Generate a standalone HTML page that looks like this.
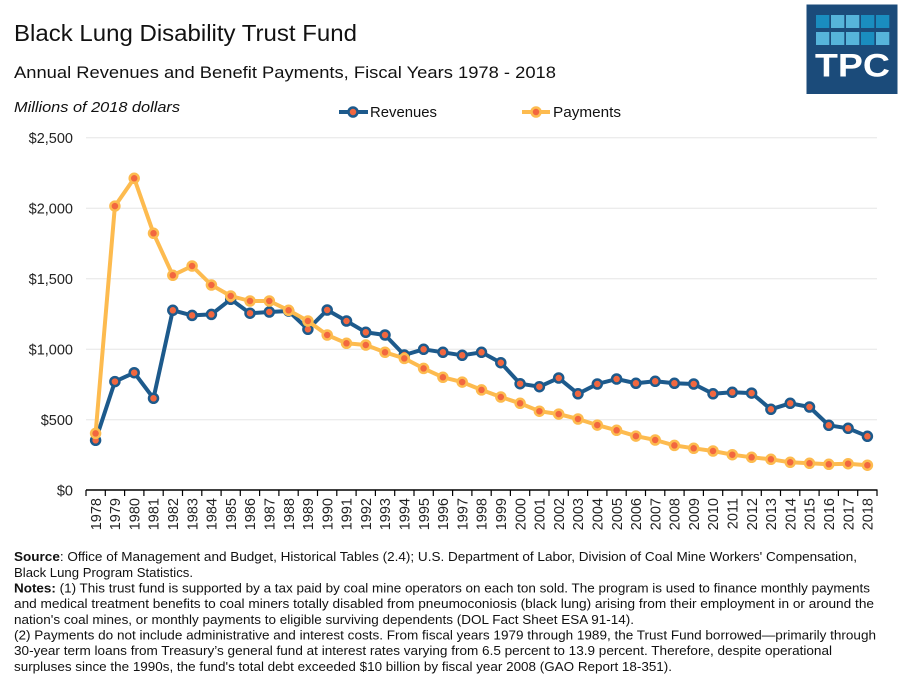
<!DOCTYPE html>
<html>
<head>
<meta charset="utf-8">
<style>
html,body{margin:0;padding:0;background:#fff;}
svg{display:block;font-family:"Liberation Sans",Arial,sans-serif;}
</style>
</head>
<body>
<svg width="907" height="682" viewBox="0 0 907 682" xmlns="http://www.w3.org/2000/svg">
<rect width="907" height="682" fill="#fff"/>

<!-- Titles -->
<text x="14" y="41" font-size="23" fill="#111" textLength="343" lengthAdjust="spacingAndGlyphs">Black Lung Disability Trust Fund</text>
<text x="14" y="78" font-size="16.5" fill="#111" textLength="542" lengthAdjust="spacingAndGlyphs">Annual Revenues and Benefit Payments, Fiscal Years 1978 - 2018</text>
<text x="14" y="112" font-size="15" font-style="italic" fill="#111" textLength="166" lengthAdjust="spacingAndGlyphs">Millions of 2018 dollars</text>

<!-- TPC logo -->
<rect x="806.5" y="4.5" width="91" height="89.5" fill="#1b4b7a"/>
<g>
<rect x="816" y="15" width="13.3" height="13" fill="#1a8dbf"/>
<rect x="831" y="15" width="13.3" height="13" fill="#56b4da"/>
<rect x="846" y="15" width="13.3" height="13" fill="#56b4da"/>
<rect x="861" y="15" width="13.3" height="13" fill="#1a8dbf"/>
<rect x="876" y="15" width="13.3" height="13" fill="#1a8dbf"/>
<rect x="816" y="32" width="13.3" height="13" fill="#56b4da"/>
<rect x="831" y="32" width="13.3" height="13" fill="#56b4da"/>
<rect x="846" y="32" width="13.3" height="13" fill="#56b4da"/>
<rect x="861" y="32" width="13.3" height="13" fill="#1a8dbf"/>
<rect x="876" y="32" width="13.3" height="13" fill="#56b4da"/>
</g>
<text x="815" y="76.5" font-size="32" font-weight="bold" fill="#fff" textLength="75" lengthAdjust="spacingAndGlyphs">TPC</text>

<!-- Legend -->
<line x1="339" y1="112" x2="368" y2="112" stroke="#1d5a8c" stroke-width="4"/>
<circle cx="353" cy="112" r="4.5" fill="#f2673f" stroke="#1d5a8c" stroke-width="2.5"/>
<text x="370" y="117" font-size="15" fill="#111" textLength="67" lengthAdjust="spacingAndGlyphs">Revenues</text>
<line x1="522" y1="112" x2="550" y2="112" stroke="#fdbb4f" stroke-width="4"/>
<circle cx="536" cy="112" r="4.5" fill="#f2673f" stroke="#fdbb4f" stroke-width="2.5"/>
<text x="553" y="117" font-size="15" fill="#111" textLength="68" lengthAdjust="spacingAndGlyphs">Payments</text>

<!-- Gridlines -->
<g stroke="#e6e6e6" stroke-width="1">
<line x1="86" y1="137.7" x2="877" y2="137.7"/>
<line x1="86" y1="208.2" x2="877" y2="208.2"/>
<line x1="86" y1="278.7" x2="877" y2="278.7"/>
<line x1="86" y1="349.2" x2="877" y2="349.2"/>
<line x1="86" y1="419.7" x2="877" y2="419.7"/>
</g>

<!-- Y labels -->
<g font-size="14.5" fill="#222" text-anchor="end">
<text x="73" y="143">$2,500</text>
<text x="73" y="213.5">$2,000</text>
<text x="73" y="284">$1,500</text>
<text x="73" y="354.5">$1,000</text>
<text x="73" y="425">$500</text>
<text x="73" y="495.5">$0</text>
</g>

<!-- X axis -->
<line x1="86" y1="490" x2="877.5" y2="490" stroke="#000" stroke-width="1.5"/>
<g stroke="#000" stroke-width="1.2">
<line x1="86.0" y1="490" x2="86.0" y2="496"/><line x1="105.3" y1="490" x2="105.3" y2="496"/><line x1="124.6" y1="490" x2="124.6" y2="496"/><line x1="143.9" y1="490" x2="143.9" y2="496"/><line x1="163.2" y1="490" x2="163.2" y2="496"/><line x1="182.5" y1="490" x2="182.5" y2="496"/><line x1="201.8" y1="490" x2="201.8" y2="496"/><line x1="221.1" y1="490" x2="221.1" y2="496"/><line x1="240.3" y1="490" x2="240.3" y2="496"/><line x1="259.6" y1="490" x2="259.6" y2="496"/><line x1="278.9" y1="490" x2="278.9" y2="496"/><line x1="298.2" y1="490" x2="298.2" y2="496"/><line x1="317.5" y1="490" x2="317.5" y2="496"/><line x1="336.8" y1="490" x2="336.8" y2="496"/><line x1="356.1" y1="490" x2="356.1" y2="496"/><line x1="375.4" y1="490" x2="375.4" y2="496"/><line x1="394.7" y1="490" x2="394.7" y2="496"/><line x1="414.0" y1="490" x2="414.0" y2="496"/><line x1="433.3" y1="490" x2="433.3" y2="496"/><line x1="452.6" y1="490" x2="452.6" y2="496"/><line x1="471.9" y1="490" x2="471.9" y2="496"/><line x1="491.2" y1="490" x2="491.2" y2="496"/><line x1="510.4" y1="490" x2="510.4" y2="496"/><line x1="529.7" y1="490" x2="529.7" y2="496"/><line x1="549.0" y1="490" x2="549.0" y2="496"/><line x1="568.3" y1="490" x2="568.3" y2="496"/><line x1="587.6" y1="490" x2="587.6" y2="496"/><line x1="606.9" y1="490" x2="606.9" y2="496"/><line x1="626.2" y1="490" x2="626.2" y2="496"/><line x1="645.5" y1="490" x2="645.5" y2="496"/><line x1="664.8" y1="490" x2="664.8" y2="496"/><line x1="684.1" y1="490" x2="684.1" y2="496"/><line x1="703.4" y1="490" x2="703.4" y2="496"/><line x1="722.7" y1="490" x2="722.7" y2="496"/><line x1="742.0" y1="490" x2="742.0" y2="496"/><line x1="761.3" y1="490" x2="761.3" y2="496"/><line x1="780.5" y1="490" x2="780.5" y2="496"/><line x1="799.8" y1="490" x2="799.8" y2="496"/><line x1="819.1" y1="490" x2="819.1" y2="496"/><line x1="838.4" y1="490" x2="838.4" y2="496"/><line x1="857.7" y1="490" x2="857.7" y2="496"/><line x1="877.0" y1="490" x2="877.0" y2="496"/>
</g>

<!-- X labels -->
<g font-size="14.5" fill="#222" text-anchor="end">
<text transform="translate(100.8,498) rotate(-90)">1978</text>
<text transform="translate(120.1,498) rotate(-90)">1979</text>
<text transform="translate(139.4,498) rotate(-90)">1980</text>
<text transform="translate(158.7,498) rotate(-90)">1981</text>
<text transform="translate(178.0,498) rotate(-90)">1982</text>
<text transform="translate(197.3,498) rotate(-90)">1983</text>
<text transform="translate(216.6,498) rotate(-90)">1984</text>
<text transform="translate(235.9,498) rotate(-90)">1985</text>
<text transform="translate(255.2,498) rotate(-90)">1986</text>
<text transform="translate(274.5,498) rotate(-90)">1987</text>
<text transform="translate(293.8,498) rotate(-90)">1988</text>
<text transform="translate(313.1,498) rotate(-90)">1989</text>
<text transform="translate(332.4,498) rotate(-90)">1990</text>
<text transform="translate(351.7,498) rotate(-90)">1991</text>
<text transform="translate(371.0,498) rotate(-90)">1992</text>
<text transform="translate(390.2,498) rotate(-90)">1993</text>
<text transform="translate(409.5,498) rotate(-90)">1994</text>
<text transform="translate(428.8,498) rotate(-90)">1995</text>
<text transform="translate(448.1,498) rotate(-90)">1996</text>
<text transform="translate(467.4,498) rotate(-90)">1997</text>
<text transform="translate(486.7,498) rotate(-90)">1998</text>
<text transform="translate(506.0,498) rotate(-90)">1999</text>
<text transform="translate(525.3,498) rotate(-90)">2000</text>
<text transform="translate(544.6,498) rotate(-90)">2001</text>
<text transform="translate(563.9,498) rotate(-90)">2002</text>
<text transform="translate(583.2,498) rotate(-90)">2003</text>
<text transform="translate(602.5,498) rotate(-90)">2004</text>
<text transform="translate(621.8,498) rotate(-90)">2005</text>
<text transform="translate(641.1,498) rotate(-90)">2006</text>
<text transform="translate(660.4,498) rotate(-90)">2007</text>
<text transform="translate(679.6,498) rotate(-90)">2008</text>
<text transform="translate(698.9,498) rotate(-90)">2009</text>
<text transform="translate(718.2,498) rotate(-90)">2010</text>
<text transform="translate(737.5,498) rotate(-90)">2011</text>
<text transform="translate(756.8,498) rotate(-90)">2012</text>
<text transform="translate(776.1,498) rotate(-90)">2013</text>
<text transform="translate(795.4,498) rotate(-90)">2014</text>
<text transform="translate(814.7,498) rotate(-90)">2015</text>
<text transform="translate(834.0,498) rotate(-90)">2016</text>
<text transform="translate(853.3,498) rotate(-90)">2017</text>
<text transform="translate(872.6,498) rotate(-90)">2018</text>
</g>

<!-- Revenues -->
<polyline fill="none" stroke="#1d5a8c" stroke-width="4" stroke-linejoin="round" points="95.6,440.3 114.9,381.6 134.2,372.7 153.5,398.3 172.8,310.3 192.1,315.4 211.4,314.4 230.7,299.3 250.0,313.2 269.3,312.0 288.6,311.0 307.9,329.3 327.2,310.0 346.5,321.0 365.8,332.3 385.0,335.0 404.3,355.0 423.6,349.3 442.9,352.3 462.2,355.3 481.5,352.3 500.8,362.7 520.1,383.7 539.4,386.7 558.7,378.0 578.0,393.8 597.3,384.0 616.6,379.0 635.9,383.3 655.2,381.3 674.4,383.3 693.7,384.0 713.0,393.8 732.3,392.3 751.6,393.1 770.9,409.3 790.2,403.3 809.5,407.0 828.8,425.3 848.1,428.3 867.4,436.3"/>
<g fill="#f2673f" stroke="#1d5a8c" stroke-width="2.5">
<circle cx="95.6" cy="440.3" r="4.5"/><circle cx="114.9" cy="381.6" r="4.5"/><circle cx="134.2" cy="372.7" r="4.5"/><circle cx="153.5" cy="398.3" r="4.5"/><circle cx="172.8" cy="310.3" r="4.5"/><circle cx="192.1" cy="315.4" r="4.5"/><circle cx="211.4" cy="314.4" r="4.5"/><circle cx="230.7" cy="299.3" r="4.5"/><circle cx="250.0" cy="313.2" r="4.5"/><circle cx="269.3" cy="312.0" r="4.5"/><circle cx="288.6" cy="311.0" r="4.5"/><circle cx="307.9" cy="329.3" r="4.5"/><circle cx="327.2" cy="310.0" r="4.5"/><circle cx="346.5" cy="321.0" r="4.5"/><circle cx="365.8" cy="332.3" r="4.5"/><circle cx="385.0" cy="335.0" r="4.5"/><circle cx="404.3" cy="355.0" r="4.5"/><circle cx="423.6" cy="349.3" r="4.5"/><circle cx="442.9" cy="352.3" r="4.5"/><circle cx="462.2" cy="355.3" r="4.5"/><circle cx="481.5" cy="352.3" r="4.5"/><circle cx="500.8" cy="362.7" r="4.5"/><circle cx="520.1" cy="383.7" r="4.5"/><circle cx="539.4" cy="386.7" r="4.5"/><circle cx="558.7" cy="378.0" r="4.5"/><circle cx="578.0" cy="393.8" r="4.5"/><circle cx="597.3" cy="384.0" r="4.5"/><circle cx="616.6" cy="379.0" r="4.5"/><circle cx="635.9" cy="383.3" r="4.5"/><circle cx="655.2" cy="381.3" r="4.5"/><circle cx="674.4" cy="383.3" r="4.5"/><circle cx="693.7" cy="384.0" r="4.5"/><circle cx="713.0" cy="393.8" r="4.5"/><circle cx="732.3" cy="392.3" r="4.5"/><circle cx="751.6" cy="393.1" r="4.5"/><circle cx="770.9" cy="409.3" r="4.5"/><circle cx="790.2" cy="403.3" r="4.5"/><circle cx="809.5" cy="407.0" r="4.5"/><circle cx="828.8" cy="425.3" r="4.5"/><circle cx="848.1" cy="428.3" r="4.5"/><circle cx="867.4" cy="436.3" r="4.5"/>
</g>

<!-- Payments -->
<polyline fill="none" stroke="#fdbb4f" stroke-width="4" stroke-linejoin="round" points="95.6,433.4 114.9,206.1 134.2,178.3 153.5,233.3 172.8,275.3 192.1,266.0 211.4,285.0 230.7,296.0 250.0,301.0 269.3,301.0 288.6,310.3 307.9,321.0 327.2,335.0 346.5,343.3 365.8,345.0 385.0,352.3 404.3,358.4 423.6,368.4 442.9,377.3 462.2,382.1 481.5,389.9 500.8,397.0 520.1,403.3 539.4,411.2 558.7,414.1 578.0,419.0 597.3,425.1 616.6,430.3 635.9,436.1 655.2,440.0 674.4,445.4 693.7,448.3 713.0,451.0 732.3,454.7 751.6,457.3 770.9,459.3 790.2,462.3 809.5,463.3 828.8,464.3 848.1,463.7 867.4,465.2"/>
<g fill="#f2673f" stroke="#fdbb4f" stroke-width="2.5">
<circle cx="95.6" cy="433.4" r="4.5"/><circle cx="114.9" cy="206.1" r="4.5"/><circle cx="134.2" cy="178.3" r="4.5"/><circle cx="153.5" cy="233.3" r="4.5"/><circle cx="172.8" cy="275.3" r="4.5"/><circle cx="192.1" cy="266.0" r="4.5"/><circle cx="211.4" cy="285.0" r="4.5"/><circle cx="230.7" cy="296.0" r="4.5"/><circle cx="250.0" cy="301.0" r="4.5"/><circle cx="269.3" cy="301.0" r="4.5"/><circle cx="288.6" cy="310.3" r="4.5"/><circle cx="307.9" cy="321.0" r="4.5"/><circle cx="327.2" cy="335.0" r="4.5"/><circle cx="346.5" cy="343.3" r="4.5"/><circle cx="365.8" cy="345.0" r="4.5"/><circle cx="385.0" cy="352.3" r="4.5"/><circle cx="404.3" cy="358.4" r="4.5"/><circle cx="423.6" cy="368.4" r="4.5"/><circle cx="442.9" cy="377.3" r="4.5"/><circle cx="462.2" cy="382.1" r="4.5"/><circle cx="481.5" cy="389.9" r="4.5"/><circle cx="500.8" cy="397.0" r="4.5"/><circle cx="520.1" cy="403.3" r="4.5"/><circle cx="539.4" cy="411.2" r="4.5"/><circle cx="558.7" cy="414.1" r="4.5"/><circle cx="578.0" cy="419.0" r="4.5"/><circle cx="597.3" cy="425.1" r="4.5"/><circle cx="616.6" cy="430.3" r="4.5"/><circle cx="635.9" cy="436.1" r="4.5"/><circle cx="655.2" cy="440.0" r="4.5"/><circle cx="674.4" cy="445.4" r="4.5"/><circle cx="693.7" cy="448.3" r="4.5"/><circle cx="713.0" cy="451.0" r="4.5"/><circle cx="732.3" cy="454.7" r="4.5"/><circle cx="751.6" cy="457.3" r="4.5"/><circle cx="770.9" cy="459.3" r="4.5"/><circle cx="790.2" cy="462.3" r="4.5"/><circle cx="809.5" cy="463.3" r="4.5"/><circle cx="828.8" cy="464.3" r="4.5"/><circle cx="848.1" cy="463.7" r="4.5"/><circle cx="867.4" cy="465.2" r="4.5"/>
</g>

<!-- Notes -->
<g font-size="13" fill="#111">
<text x="14" y="561" textLength="843" lengthAdjust="spacingAndGlyphs"><tspan font-weight="bold">Source</tspan>: Office of Management and Budget, Historical Tables (2.4); U.S. Department of Labor, Division of Coal Mine Workers' Compensation,</text>
<text x="14" y="577" textLength="179" lengthAdjust="spacingAndGlyphs">Black Lung Program Statistics.</text>
<text x="14" y="592.5" textLength="856" lengthAdjust="spacingAndGlyphs"><tspan font-weight="bold">Notes:</tspan> (1) This trust fund is supported by a tax paid by coal mine operators on each ton sold. The program is used to finance monthly payments</text>
<text x="14" y="608" textLength="860" lengthAdjust="spacingAndGlyphs">and medical treatment benefits to coal miners totally disabled from pneumoconiosis (black lung) arising from their employment in or around the</text>
<text x="14" y="624" textLength="620" lengthAdjust="spacingAndGlyphs">nation's coal mines, or monthly payments to eligible surviving dependents (DOL Fact Sheet ESA 91-14).</text>
<text x="14" y="639.5" textLength="862" lengthAdjust="spacingAndGlyphs">(2) Payments do not include administrative and interest costs. From fiscal years 1979 through 1989, the Trust Fund borrowed—primarily through</text>
<text x="14" y="655" textLength="818" lengthAdjust="spacingAndGlyphs">30-year term loans from Treasury’s general fund at interest rates varying from 6.5 percent to 13.9 percent. Therefore, despite operational</text>
<text x="14" y="671" textLength="658" lengthAdjust="spacingAndGlyphs">surpluses since the 1990s, the fund's total debt exceeded $10 billion by fiscal year 2008 (GAO Report 18-351).</text>
</g>
</svg>
</body>
</html>
